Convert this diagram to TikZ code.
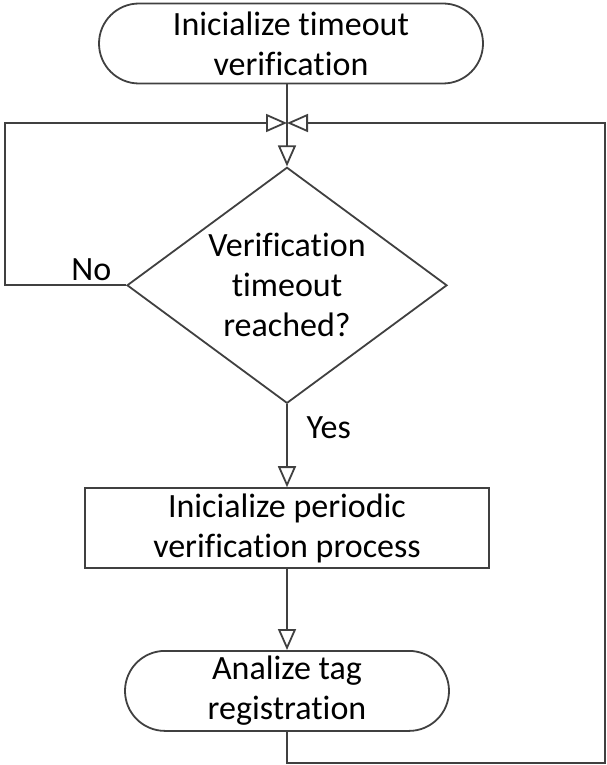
\documentclass[tikz,border=0pt]{standalone}
\usepackage{fontspec}
\setmainfont[Ligatures=NoCommon]{Carlito}
\usetikzlibrary{positioning,shapes.geometric,shapes.misc,arrows.meta}
\definecolor{linegray}{HTML}{404040}
\tikzset{
  terminal/.style={draw=linegray,rounded rectangle,minimum height=40pt,align=center,inner sep=0pt},
  process/.style={draw=linegray,rectangle,minimum width=202pt,minimum height=40pt,align=center,inner sep=0pt},
  decision/.style={draw=linegray,diamond,aspect=1.36,minimum width=160pt,minimum height=118pt,align=center,inner sep=0pt},
  arr/.style={draw=linegray,-{Triangle[open,length=10.5pt,width=9pt]}},
  flowline/.style={draw=linegray}
}

\begin{document}
\begin{tikzpicture}[x=0.5pt,y=-0.5pt,line width=0.9pt,font=\fontsize{17}{20}\selectfont]
    \useasboundingbox (0,0) rectangle (606,765);
    \coordinate (junction) at (287,123);
    \node(start)[terminal,minimum width=192pt] at (291,43.5) {Inicialize timeout\\verification};
    \node(check)[decision,below =41pt of start.south -| junction,anchor=north] {Verification\\timeout\\reached?};
    \node(init)[process,below =41.5pt of check] {Inicialize periodic\\verification process};
    \node(analyze)[terminal,minimum width=162pt,below =40.5pt of init] {Analize tag\\registration};
    \coordinate (leftloop) at (5,123);
    \coordinate (rightloop) at (605,763);
    % flow
    \draw[flowline] (start.south -| junction) -- (junction);
    \draw[arr] (junction) -- (check.north);
    \draw[arr] (check.south) -- node[pos=0.28,anchor=west,xshift=6pt]{Yes} (init.north);
    \draw[arr] (init.south) -- (analyze.north);
    % loops back
    \draw[arr] (check.west) -| (leftloop) -- (junction);
    \node(no)[above left=0pt and 5pt of check.west,inner sep=2pt]{No};
    \draw[arr] (analyze.south) |- (rightloop) |- (junction);
\end{tikzpicture}
\end{document}
